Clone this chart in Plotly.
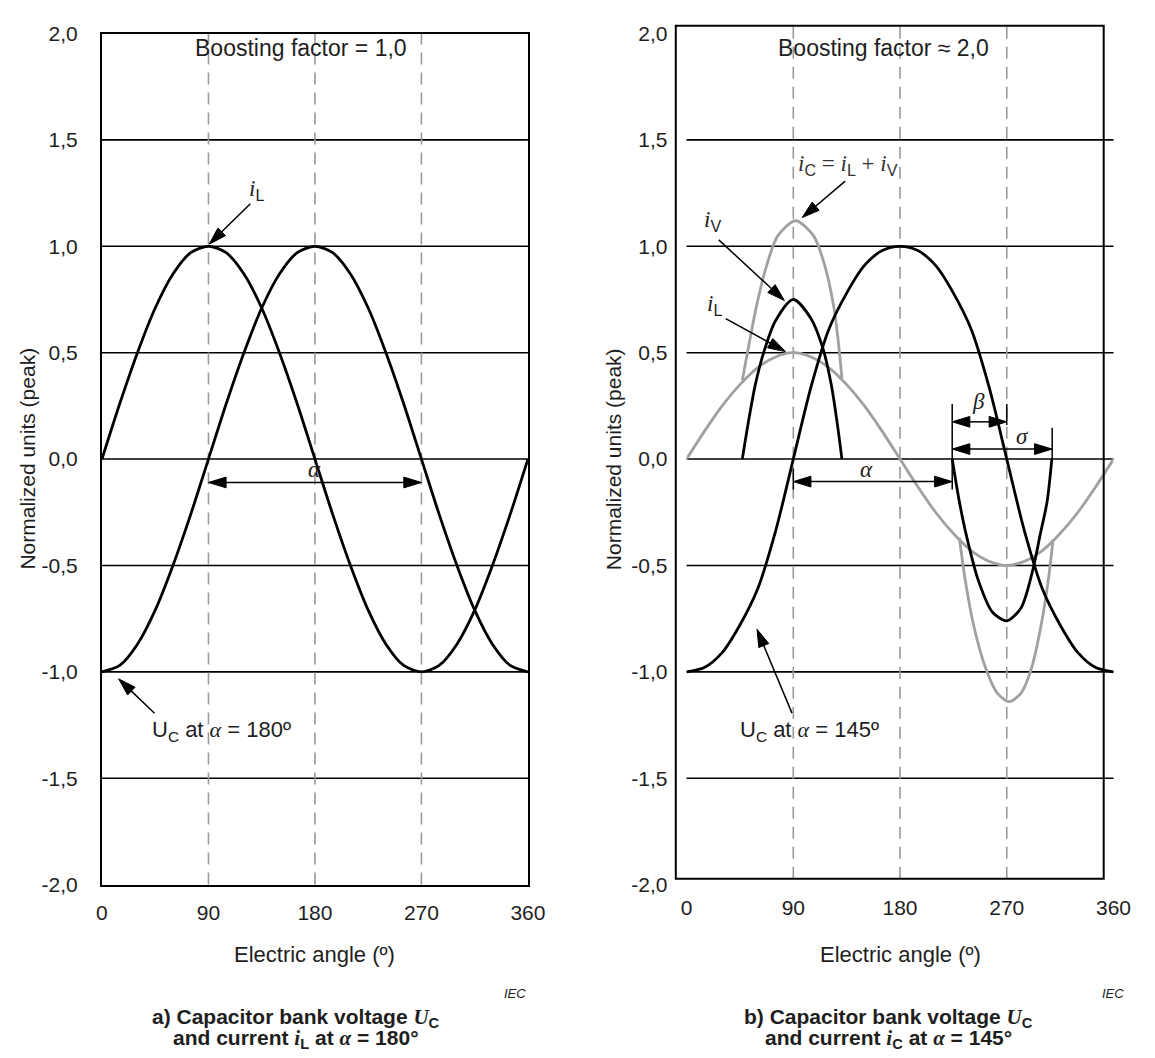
import math
import plotly.graph_objects as go

W, H = 1155, 1058
SANS = "Arial, Liberation Sans, sans-serif"
SERIF = "Times New Roman, Liberation Serif, serif"
TXT = "#1e1e1e"
GRAY = "#a0a0a0"

# ---------------- data ----------------
angles = [0, 15, 30, 45, 60, 75, 90, 105, 120, 135, 150, 165, 180,
          195, 210, 225, 240, 255, 270, 285, 300, 315, 330, 345, 360]

# panel a) boosting factor = 1,0
a_iL = [0.00, 0.26, 0.50, 0.71, 0.87, 0.97, 1.00, 0.97, 0.87, 0.71, 0.50, 0.26, 0.00,
        -0.26, -0.50, -0.71, -0.87, -0.97, -1.00, -0.97, -0.87, -0.71, -0.50, -0.26, 0.00]
a_uC = [-1.00, -0.97, -0.87, -0.71, -0.50, -0.26, 0.00, 0.26, 0.50, 0.71, 0.87, 0.97, 1.00,
        0.97, 0.87, 0.71, 0.50, 0.26, 0.00, -0.26, -0.50, -0.71, -0.87, -0.97, -1.00]

# panel b) boosting factor ~ 2,0
b_uC = [-1.00, -0.98, -0.91, -0.78, -0.61, -0.34, 0.00, 0.34, 0.61, 0.78, 0.91, 0.98, 1.00,
        0.98, 0.91, 0.78, 0.61, 0.34, 0.00, -0.34, -0.61, -0.78, -0.91, -0.98, -1.00]
b_iL = [0.00, 0.13, 0.25, 0.35, 0.43, 0.48, 0.50, 0.48, 0.43, 0.35, 0.25, 0.13, 0.00,
        -0.13, -0.25, -0.35, -0.43, -0.48, -0.50, -0.48, -0.43, -0.35, -0.25, -0.13, 0.00]
iv1_ang = [47, 52, 58, 65, 75, 90, 105, 115, 122, 127, 131]
iv1_val = [0.00, 0.17, 0.35, 0.50, 0.65, 0.75, 0.66, 0.52, 0.35, 0.17, 0.00]
iv2_ang = [224, 230, 236, 246, 258, 270, 282, 292, 298, 304, 308]
iv2_val = [0.00, -0.20, -0.36, -0.57, -0.72, -0.76, -0.70, -0.52, -0.36, -0.20, 0.00]
ic1_ang = [47, 53, 59, 67, 77, 92, 107, 116, 124, 128, 131]
ic1_val = [0.37, 0.55, 0.72, 0.90, 1.05, 1.12, 1.05, 0.92, 0.72, 0.55, 0.38]
ic2_ang = [230, 235, 242, 252, 262, 272, 282, 291, 299, 305, 309]
ic2_val = [-0.37, -0.57, -0.78, -0.98, -1.10, -1.14, -1.10, -0.98, -0.78, -0.57, -0.38]

x_ticks = [0, 90, 180, 270, 360]
y_ticks = [-2.0, -1.5, -1.0, -0.5, 0.0, 0.5, 1.0, 1.5, 2.0]
y_ticktext = ["-2,0", "-1,5", "-1,0", "-0,5", "0,0", "0,5", "1,0", "1,5", "2,0"]
grid_vals = [-1.5, -1.0, -0.5, 0.0, 0.5, 1.0, 1.5]
dash_vals = [90, 180, 270]

# ---------------- geometry (page pixels) ----------------
LX0, LX1 = 98, 533        # left data/frame
RX0, RX1 = 695, 1131      # right data area
PY0, PY1 = 22, 892        # data top (2.0) / bottom (-2.0)
RF = (684, 14, 1121, 886)  # right frame box

def px(x): return x / W
def py(y): return 1 - y / H

SY = (PY1 - PY0) / 4.0
SXL = (LX1 - LX0) / 360.0
SXR = (RX1 - RX0) / 360.0

fig = go.Figure()

def curve(x, y, color, ax, width=2.8):
    fig.add_trace(go.Scatter(x=x, y=y, mode="lines", xaxis=ax[0], yaxis=ax[1],
                             line=dict(color=color, width=width, shape="spline", smoothing=0.8),
                             hoverinfo="skip", showlegend=False))

A = ("x", "y")
B = ("x2", "y2")
curve(angles, a_iL, "black", A)
curve(angles, a_uC, "black", A)
curve(angles, b_iL, GRAY, B)
curve(ic1_ang, ic1_val, GRAY, B)
curve(ic2_ang, ic2_val, GRAY, B)
curve(angles, b_uC, "black", B)
curve(iv1_ang, iv1_val, "black", B)
curve(iv2_ang, iv2_val, "black", B)

shapes = []
for v in grid_vals:
    for xr, yr in (("x domain", "y"), ("x2 domain", "y2")):
        shapes.append(dict(type="line", xref=xr, yref=yr, x0=0, x1=1, y0=v, y1=v,
                           line=dict(color="black", width=1.6), layer="below"))
for v in dash_vals:
    shapes.append(dict(type="line", xref="x", yref="y domain", x0=v, x1=v, y0=0, y1=1,
                       line=dict(color="#9a9a9a", width=1.6, dash="12px,8px"), layer="below"))
    shapes.append(dict(type="line", xref="x2", yref="paper", x0=v, x1=v, y0=py(RF[3]), y1=py(RF[1]),
                       line=dict(color="#9a9a9a", width=1.6, dash="12px,8px"), layer="below"))
shapes.append(dict(type="rect", xref="paper", yref="paper", x0=px(RF[0]), x1=px(RF[2]),
                   y0=py(RF[3]), y1=py(RF[1]), line=dict(color="black", width=2), layer="above"))


def head(xr, yr, sx, tx, ty, ux, uy, L=18, Wd=5.5):
    bx, by = tx - ux * L, ty - uy * L
    nx, ny = -uy, ux
    pts = [(tx, ty), (bx + nx * Wd, by + ny * Wd), (bx - nx * Wd, by - ny * Wd)]
    path = "M " + " L ".join(f"{x / sx:.4f},{y / SY:.4f}" for x, y in pts) + " Z"
    return dict(type="path", path=path, xref=xr, yref=yr, fillcolor="black",
                line=dict(color="black", width=1), layer="above")


def arrow(ax, x0, y0, x1, y1, start=False, end=True, width=1.5):
    xr, yr = ax
    sx = SXL if xr == "x" else SXR
    X0, Y0, X1, Y1 = x0 * sx, y0 * SY, x1 * sx, y1 * SY
    n = math.hypot(X1 - X0, Y1 - Y0)
    ux, uy = (X1 - X0) / n, (Y1 - Y0) / n
    lx0, ly0 = (X0 + ux * 14, Y0 + uy * 14) if start else (X0, Y0)
    lx1, ly1 = (X1 - ux * 14, Y1 - uy * 14) if end else (X1, Y1)
    shapes.append(dict(type="line", xref=xr, yref=yr, x0=lx0 / sx, y0=ly0 / SY, x1=lx1 / sx, y1=ly1 / SY,
                       line=dict(color="black", width=width), layer="above"))
    if end:
        shapes.append(head(xr, yr, sx, X1, Y1, ux, uy))
    if start:
        shapes.append(head(xr, yr, sx, X0, Y0, -ux, -uy))


def vbar(ax, x, y0, y1):
    shapes.append(dict(type="line", xref=ax[0], yref=ax[1], x0=x, x1=x, y0=y0, y1=y1,
                       line=dict(color="black", width=1.5), layer="above"))

# panel a arrows
arrow(A, 125.4, 1.20, 90.6, 1.01)            # i_L pointer
arrow(A, 44.4, -1.195, 14.1, -1.033)         # U_C pointer
arrow(A, 90, -0.11, 270, -0.11, start=True)  # alpha
# panel b arrows
arrow(B, 133.8, 1.306, 97.5, 1.135)          # i_C pointer
arrow(B, 27.2, 1.03, 82.5, 0.745)            # i_V pointer
arrow(B, 33.0, 0.66, 83.5, 0.505)            # i_L pointer
arrow(B, 88.9, -1.194, 59.4, -0.80)          # U_C pointer
arrow(B, 90, -0.106, 224, -0.106, start=True)    # alpha
arrow(B, 224, 0.175, 270, 0.175, start=True)     # beta
arrow(B, 224, 0.047, 308.3, 0.047, start=True)   # sigma
vbar(B, 90, -0.045, -0.143)
vbar(B, 224, 0.259, -0.143)
vbar(B, 270, 0.259, 0.16)
vbar(B, 308.3, 0.147, 0.0)

fig.update_layout(shapes=shapes)

ann = []
def txt(x, y, text, size=21, family=SANS, color=TXT, angle=0, xanchor="center"):
    ann.append(dict(x=px(x), y=py(y), xref="paper", yref="paper", text=text, showarrow=False,
                    xanchor=xanchor, yanchor="middle", textangle=angle,
                    font=dict(size=size, family=family, color=color)))

def I(sub):
    return f'<i>i</i><sub><span style="font-family:{SANS}">{sub}</span></sub>'

SER = lambda s: f'<span style="font-family:{SERIF}"><i>{s}</i></span>'

txt(301, 37, "Boosting factor = 1,0", 23)
txt(896, 37, "Boosting factor ≈ 2,0", 23)
txt(256, 182, I("L"), 23, SERIF)
txt(220, 735, f"U<sub>C</sub> at {SER('α')} = 180º", 22)
txt(315, 468, "<i>α</i>", 23, SERIF)
txt(860, 156, f"{I('C')} = {I('L')} + {I('V')}", 23, SERIF, color="#333")
txt(721, 214, I("V"), 23, SERIF)
txt(724, 300, I("L"), 23, SERIF)
txt(821, 735, f"U<sub>C</sub> at {SER('α')} = 145º", 22)
txt(879, 468, "<i>α</i>", 23, SERIF)
txt(993, 398, "<i>β</i>", 23, SERIF)
txt(1038, 434, "<i>σ</i>", 23, SERIF)

txt(22, 457, "Normalized units (peak)", 21, angle=-90)
txt(620, 457, "Normalized units (peak)", 21, angle=-90)
txt(315, 963, "Electric angle (º)", 22)
txt(913, 963, "Electric angle (º)", 22)
txt(520, 1003, "<i>IEC</i>", 13)
txt(1131, 1003, "<i>IEC</i>", 13)

cap_u = f'<span style="font-family:{SERIF}"><i>U</i></span><sub>C</sub>'
txt(296, 1028, f"<b>a) Capacitor bank voltage {cap_u}</b>", 21)
txt(296, 1050, f"<b>and current {SER('i')}<sub>L</sub> at {SER('α')} = 180°</b>", 21)
txt(901, 1028, f"<b>b) Capacitor bank voltage {cap_u}</b>", 21)
txt(901, 1050, f"<b>and current {SER('i')}<sub>C</sub> at {SER('α')} = 145°</b>", 21)

fig.update_layout(annotations=ann)

tickfont = dict(size=21, family=SANS, color=TXT)
xcommon = dict(range=[0, 360], tickvals=x_ticks, ticktext=[str(v) for v in x_ticks],
               showgrid=False, zeroline=False, ticks="", tickfont=tickfont,
               ticklabelstandoff=8, fixedrange=True)
ycommon = dict(range=[-2, 2], tickvals=y_ticks, ticktext=y_ticktext, showgrid=False,
               zeroline=False, ticks="", tickfont=tickfont, ticklabelstandoff=18, fixedrange=True,
               domain=[py(PY1), py(PY0)])

fig.update_layout(
    width=W, height=H, margin=dict(l=0, r=0, t=0, b=0),
    paper_bgcolor="white", plot_bgcolor="white", showlegend=False,
    xaxis=dict(domain=[px(LX0), px(LX1)], anchor="y", showline=True, mirror=True,
               linecolor="black", linewidth=2, **xcommon),
    yaxis=dict(anchor="x", showline=True, mirror=True, linecolor="black", linewidth=2, **ycommon),
    xaxis2=dict(domain=[px(RX0), px(RX1)], anchor="y2", showline=False, **xcommon),
    yaxis2=dict(anchor="x2", showline=False, **ycommon),
)

fig.write_html("out.html", config={"displayModeBar": False},
               post_script="document.body.style.margin='0';document.body.style.overflow='hidden';")
